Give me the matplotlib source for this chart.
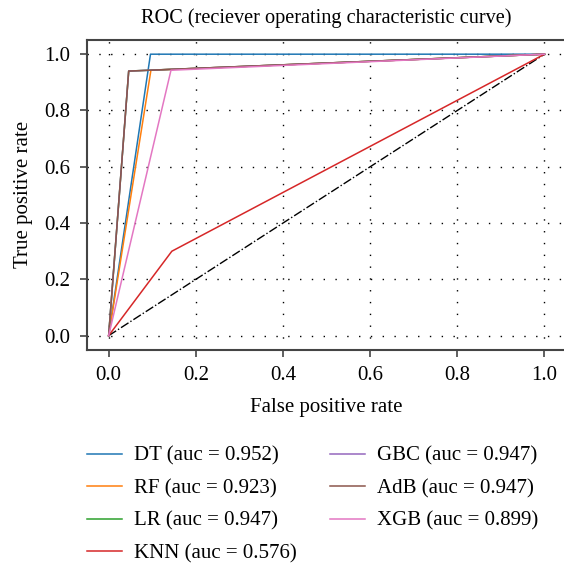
import matplotlib
matplotlib.use("Agg")
import matplotlib.pyplot as plt

# ROC points (fpr, tpr) for each model
models = ["DT", "RF", "LR", "KNN", "GBC", "AdB", "XGB"]
aucs = [0.952, 0.923, 0.947, 0.576, 0.947, 0.947, 0.899]
fprs = [
    [0.0, 0.096, 1.0],
    [0.0, 0.097, 1.0],
    [0.0, 0.046, 1.0],
    [0.0, 0.145, 1.0],
    [0.0, 0.046, 1.0],
    [0.0, 0.046, 1.0],
    [0.0, 0.143, 1.0],
]
tprs = [
    [0.0, 1.0, 1.0],
    [0.0, 0.943, 1.0],
    [0.0, 0.94, 1.0],
    [0.0, 0.30, 1.0],
    [0.0, 0.94, 1.0],
    [0.0, 0.94, 1.0],
    [0.0, 0.943, 1.0],
]
colors = ["#1f77b4", "#ff7f0e", "#2ca02c", "#d62728", "#9467bd", "#8c564b", "#e377c2"]
ticks = [0.0, 0.2, 0.4, 0.6, 0.8, 1.0]

plt.rcParams["font.family"] = ["Liberation Serif", "DejaVu Serif"]
plt.rcParams["font.size"] = 15

fig = plt.figure(figsize=(5.64, 5.65), dpi=100)
ax = fig.add_axes([0.154, 0.381, 0.85, 0.548])

ax.plot([0, 1], [0, 1], color="black", linestyle="-.", lw=1)
for name, auc, fx, ty, c in zip(models, aucs, fprs, tprs, colors):
    ax.plot(fx, ty, color=c, lw=1.1, label=f"{name} (auc = {auc:.3f})")

ax.set_xlim(-0.05, 1.05)
ax.set_ylim(-0.05, 1.05)
ax.set_xticks(ticks)
ax.set_yticks(ticks)
ax.grid(True, color="black", linestyle=(0, (1, 7.5)), lw=1)
for s in ax.spines.values():
    s.set_linewidth(1.5)
    s.set_color("#444444")
ax.tick_params(direction="out", length=5, width=1.2, color="#444444", pad=7)

ax.set_xlabel("False positive rate", labelpad=9)
ax.set_ylabel("True positive rate", labelpad=8)
ax.set_title("ROC (reciever operating characteristic curve)", pad=12, fontsize=14.6)

ax.legend(loc="upper left", bbox_to_anchor=(87 / 564, 0.21), bbox_transform=fig.transFigure,
          ncol=2, frameon=False, handlelength=1.7, handletextpad=0.55, columnspacing=1.6,
          labelspacing=0.62, borderaxespad=0, borderpad=0)

fig.savefig("out.png", dpi=100)
